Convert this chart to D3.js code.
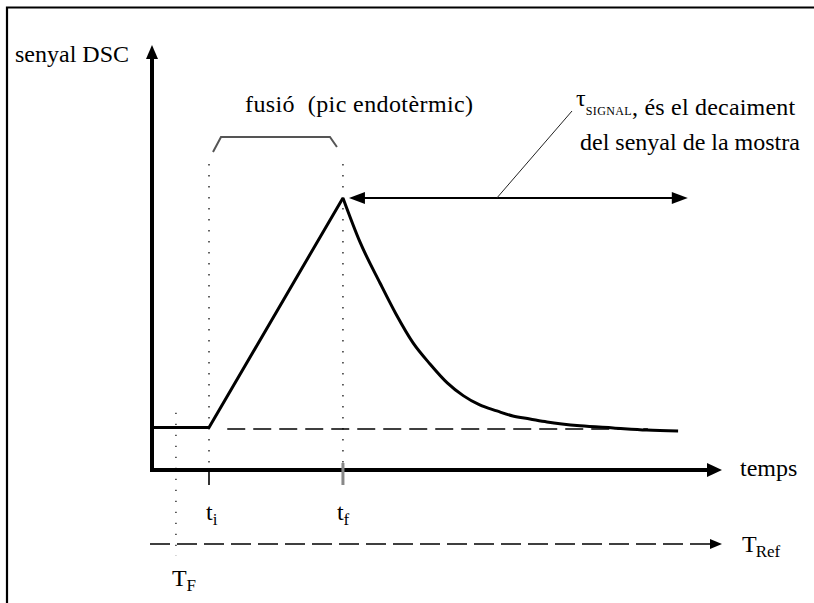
<!DOCTYPE html>
<html>
<head>
<meta charset="utf-8">
<script src="https://cdn.jsdelivr.net/npm/d3@7"></script>
<style>
  html, body { margin: 0; padding: 0; background: #fff; }
  svg { display: block; }
</style>
</head>
<body>
<svg id="chart" width="814" height="603"></svg>
<script>
// DSC signal during melting: flat baseline, linear rise, exponential-like decay
const timeValues   = [0, 10, 33.5, 36.5, 40, 42.8, 45.8, 48.8, 51.8, 54.6, 57.5, 60.5, 63.3, 66.3, 69.3, 75.1, 80.9, 86.8, 92.3];
const signalValues = [10, 10, 64, 53.6, 44, 36.7, 29.9, 24.9, 20.5, 17.5, 15.3, 13.9, 12.7, 12.0, 11.3, 10.4, 9.9, 9.4, 9.2];

// characteristic times
const markerNames = ["T_F", "t_i", "t_f"];
const markerTimes = [4.2, 10, 33.5];
const baselineSignal = 10;
const decayEndTime = 94;     // reach of the tau_signal arrow
const leaderTime = 60.5;     // where the tau_signal leader touches the arrow

// labels
const yAxisLabel = "senyal DSC";
const xAxisLabel = "temps";
const refAxisLabel = ["T", "Ref"];
const meltLabel = "fusió\u00a0 (pic endotèrmic)";
const tauLine1 = ", és el decaiment";
const tauLine2 = "del senyal de la mostra";

const FONT = "'Liberation Serif', 'Times New Roman', 'DejaVu Serif', serif";

const svg = d3.select("#chart");

const x = d3.scaleLinear().domain([0, 100]).range([152, 722]);
const y = d3.scaleLinear().domain([0, 100]).range([470, 45]);

const tF = markerTimes[0], ti = markerTimes[1], tf = markerTimes[2];
const peakSignal = signalValues[2];

// frame (left and top edges)
svg.append("path")
  .attr("d", "M7,603 V7.5 H814")
  .attr("fill", "none").attr("stroke", "#000").attr("stroke-width", 2.2);

function arrowHead(tipX, tipY, dir, len, half) {
  let pts;
  if (dir === "right") pts = [[tipX, tipY], [tipX - len, tipY - half], [tipX - len, tipY + half]];
  else if (dir === "left") pts = [[tipX, tipY], [tipX + len, tipY - half], [tipX + len, tipY + half]];
  else pts = [[tipX, tipY], [tipX - half, tipY + len], [tipX + half, tipY + len]];
  svg.append("path").attr("d", d3.line()(pts) + "Z").attr("fill", "#000");
}

// dotted guides for T_F, t_i, t_f
const guideTop = y(72);
[[tF, y(13.5), y(0) + 86], [ti, guideTop, y(0)], [tf, guideTop, y(0)]].forEach(([t, y1, y2]) => {
  svg.append("line")
    .attr("x1", x(t)).attr("x2", x(t)).attr("y1", y1).attr("y2", y2)
    .attr("stroke", "#222").attr("stroke-width", 1.4)
    .attr("stroke-dasharray", "1.4,9.6");
});

// dashed continuation of the baseline
svg.append("line")
  .attr("x1", x(13.2)).attr("x2", x(87)).attr("y1", y(baselineSignal) + 1.5).attr("y2", y(baselineSignal) + 1.5)
  .attr("stroke", "#000").attr("stroke-width", 1.6)
  .attr("stroke-dasharray", "18,8");

// axes
svg.append("line")
  .attr("x1", x(0)).attr("x2", x(0)).attr("y1", y(0) + 2).attr("y2", y(97))
  .attr("stroke", "#000").attr("stroke-width", 4);
arrowHead(x(0), y(100), "up", 14, 6);

svg.append("line")
  .attr("x1", x(0) - 2).attr("x2", x(98)).attr("y1", y(0)).attr("y2", y(0))
  .attr("stroke", "#000").attr("stroke-width", 4);
arrowHead(x(100), y(0), "right", 15, 7);

// ticks at t_i and t_f
svg.append("line")
  .attr("x1", x(ti)).attr("x2", x(ti)).attr("y1", y(0)).attr("y2", y(0) + 15)
  .attr("stroke", "#000").attr("stroke-width", 1.6);
svg.append("line")
  .attr("x1", x(tf)).attr("x2", x(tf)).attr("y1", y(0) - 7).attr("y2", y(0) + 15)
  .attr("stroke", "#888").attr("stroke-width", 3);

// reference temperature axis (dashed)
const refY = y(0) + 74;
svg.append("line")
  .attr("x1", x(0) - 2).attr("x2", x(98)).attr("y1", refY).attr("y2", refY)
  .attr("stroke", "#000").attr("stroke-width", 1.5)
  .attr("stroke-dasharray", "20,7");
arrowHead(x(100), refY, "right", 12, 5);

// the signal: linear part (baseline + rise) and decay
const pts = timeValues.map((t, i) => [x(t), y(signalValues[i])]);
svg.append("path")
  .attr("d", d3.line().curve(d3.curveLinear)(pts.slice(0, 3)))
  .attr("fill", "none").attr("stroke", "#000").attr("stroke-width", 3)
  .attr("stroke-linejoin", "miter");
svg.append("path")
  .attr("d", d3.line().curve(d3.curveMonotoneX)(pts.slice(2)))
  .attr("fill", "none").attr("stroke", "#000").attr("stroke-width", 3);

// bracket over the melting interval
const bY = 137;
svg.append("path")
  .attr("d", d3.line()([[x(ti) + 4, bY + 15], [x(ti) + 12, bY], [x(tf) - 13, bY], [x(tf) - 6, bY + 10]]))
  .attr("fill", "none").attr("stroke", "#555").attr("stroke-width", 2);

// tau_signal double arrow
const arrY = y(peakSignal);
svg.append("line")
  .attr("x1", x(tf) + 10).attr("x2", x(decayEndTime) - 10).attr("y1", arrY).attr("y2", arrY)
  .attr("stroke", "#000").attr("stroke-width", 2);
arrowHead(x(tf) + 6, arrY, "left", 16, 6);
arrowHead(x(decayEndTime), arrY, "right", 16, 6);

// leader line to the tau_signal note
svg.append("line")
  .attr("x1", x(leaderTime)).attr("y1", arrY).attr("x2", 572).attr("y2", 111)
  .attr("stroke", "#222").attr("stroke-width", 1);

// texts
function label(px, py, size) {
  return svg.append("text").attr("x", px).attr("y", py)
    .attr("font-family", FONT).attr("font-size", size).attr("fill", "#000");
}
label(15, 62, 24).text(yAxisLabel);
label(740, y(0) + 6, 24).text(xAxisLabel);

const ref = label(742, refY + 8, 24);
ref.append("tspan").text(refAxisLabel[0]);
ref.append("tspan").attr("font-size", 17).attr("dy", 5).attr("dx", -1).text(refAxisLabel[1]);

function subLabel(px, py, main, sub) {
  const t = label(px, py, 24);
  t.append("tspan").text(main);
  t.append("tspan").attr("font-size", 17).attr("dy", 5).text(sub);
}
subLabel(x(ti) - 3, y(0) + 50, "t", "i");
subLabel(x(tf) - 6, y(0) + 50, "t", "f");
subLabel(x(tF) - 4, y(0) + 116, "T", "F");

label(245, 112, 24).attr("letter-spacing", 0.4).text(meltLabel);

const tau = label(576, 106, 24);
tau.append("tspan").text("τ");
tau.append("tspan").attr("font-size", 12).attr("dy", 9).attr("letter-spacing", 0.4).text("SIGNAL");
tau.append("tspan").attr("dy", 0).attr("letter-spacing", 0.2).text(tauLine1);
label(580, 150, 24).text(tauLine2);
</script>
</body>
</html>
